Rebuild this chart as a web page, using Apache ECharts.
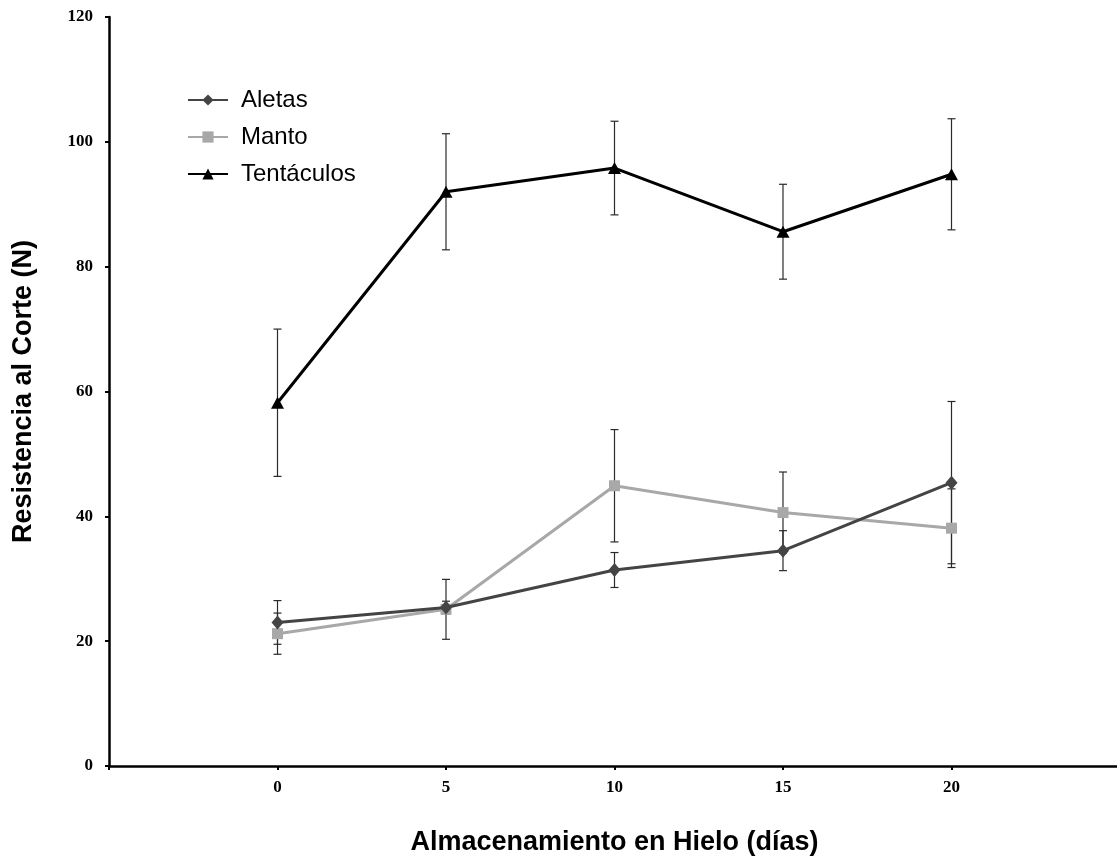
<!DOCTYPE html>
<html>
<head>
<meta charset="utf-8">
<script src="https://cdn.jsdelivr.net/npm/echarts@6/dist/echarts.min.js"></script>
<style>
html,body{margin:0;padding:0;background:#fff;}
#main{width:1117px;height:864px;}
</style>
</head>
<body>
<div id="main"></div>
<script>
// Data
var days = [0, 5, 10, 15, 20];
var xTickLabels = ['0', '5', '10', '15', '20'];
var yTickLabels = ['0', '20', '40', '60', '80', '100', '120'];
var seriesNames = ['Aletas', 'Manto', 'Tentáculos'];

var aletas = [23.0, 25.4, 31.4, 34.5, 45.4];
var aletasErr = [3.5, 1.0, 2.8, 3.2, 13.0];

var manto = [21.2, 25.1, 44.9, 40.6, 38.1];
var mantoErr = [3.3, 4.8, 9.0, 6.5, 6.3];

var tentaculos = [58.2, 92.0, 95.8, 85.6, 94.8];
var tentaculosErr = [11.8, 9.3, 7.5, 7.6, 8.9];

function pairs(vals) {
  return days.map(function (d, i) { return [d, vals[i]]; });
}
function errData(vals, errs) {
  return days.map(function (d, i) { return [d, vals[i] - errs[i], vals[i] + errs[i]]; });
}
function errRender(params, api) {
  var x = api.value(0);
  var lo = api.coord([x, api.value(1)]);
  var hi = api.coord([x, api.value(2)]);
  var cap = 4;
  var st = { stroke: '#2a2a2a', lineWidth: 1.2 };
  return {
    type: 'group',
    children: [
      { type: 'line', shape: { x1: lo[0], y1: lo[1], x2: hi[0], y2: hi[1] }, style: st },
      { type: 'line', shape: { x1: lo[0] - cap, y1: lo[1], x2: lo[0] + cap, y2: lo[1] }, style: st },
      { type: 'line', shape: { x1: hi[0] - cap, y1: hi[1], x2: hi[0] + cap, y2: hi[1] }, style: st }
    ]
  };
}

var chart = echarts.init(document.getElementById('main'), null, { renderer: 'canvas' });
var tickFont = { fontFamily: 'Liberation Serif', fontWeight: 'bold', fontSize: 17, color: '#000' };

chart.setOption({
  animation: false,
  backgroundColor: '#fff',
  grid: { left: 109, top: 17, width: 1011, height: 749, containLabel: false, outerBoundsMode: 'none' },
  legend: {
    data: seriesNames,
    orient: 'vertical',
    left: 182,
    top: 81,
    itemWidth: 40,
    itemHeight: 14,
    itemGap: 9,
    textStyle: { fontFamily: 'Liberation Sans', fontSize: 24, color: '#000', lineHeight: 28, padding: [0, 0, 0, 8] }
  },
  xAxis: {
    type: 'value',
    min: -5,
    max: 25,
    interval: 5,
    name: 'Almacenamiento en Hielo (días)',
    nameLocation: 'middle',
    nameGap: 63,
    nameTextStyle: { fontFamily: 'Liberation Sans', fontWeight: 'bold', fontSize: 27, color: '#000' },
    axisLine: { onZero: false, lineStyle: { color: '#000', width: 2.5 } },
    axisTick: { show: true, length: 4, inside: false, lineStyle: { color: '#000', width: 2 } },
    axisLabel: Object.assign({
      margin: 13,
      formatter: function (v) {
        var i = days.indexOf(v);
        return i >= 0 ? xTickLabels[i] : '';
      }
    }, tickFont),
    splitLine: { show: false }
  },
  yAxis: {
    type: 'value',
    min: 0,
    max: 120,
    interval: 20,
    name: 'Resistencia al Corte (N)',
    nameLocation: 'middle',
    nameGap: 72,
    nameRotate: 90,
    nameTextStyle: { fontFamily: 'Liberation Sans', fontWeight: 'bold', fontSize: 27, color: '#000' },
    axisLine: { show: true, onZero: false, lineStyle: { color: '#000', width: 2.5 } },
    axisTick: { show: true, length: 4, lineStyle: { color: '#000', width: 2 } },
    axisLabel: Object.assign({
      margin: 16,
      formatter: function (v) { return yTickLabels[Math.round(v / 20)]; }
    }, tickFont),
    splitLine: { show: false }
  },
  series: [
    {
      name: 'Aletas-err', type: 'custom', renderItem: errRender, z: 1,
      data: errData(aletas, aletasErr), encode: { x: 0, y: [1, 2] }
    },
    {
      name: 'Manto-err', type: 'custom', renderItem: errRender, z: 1,
      data: errData(manto, mantoErr), encode: { x: 0, y: [1, 2] }
    },
    {
      name: 'Tentáculos-err', type: 'custom', renderItem: errRender, z: 1,
      data: errData(tentaculos, tentaculosErr), encode: { x: 0, y: [1, 2] }
    },
    {
      name: 'Aletas', type: 'line', data: pairs(aletas), z: 3,
      symbol: 'diamond', symbolSize: [12, 14],
      lineStyle: { color: '#444444', width: 3 },
      itemStyle: { color: '#444444' }
    },
    {
      name: 'Manto', type: 'line', data: pairs(manto), z: 2,
      symbol: 'rect', symbolSize: 11,
      lineStyle: { color: '#a8a8a8', width: 3 },
      itemStyle: { color: '#a8a8a8' }
    },
    {
      name: 'Tentáculos', type: 'line', data: pairs(tentaculos), z: 4,
      symbol: 'triangle', symbolSize: [13, 12],
      lineStyle: { color: '#000', width: 3 },
      itemStyle: { color: '#000' }
    }
  ]
});
</script>
</body>
</html>
